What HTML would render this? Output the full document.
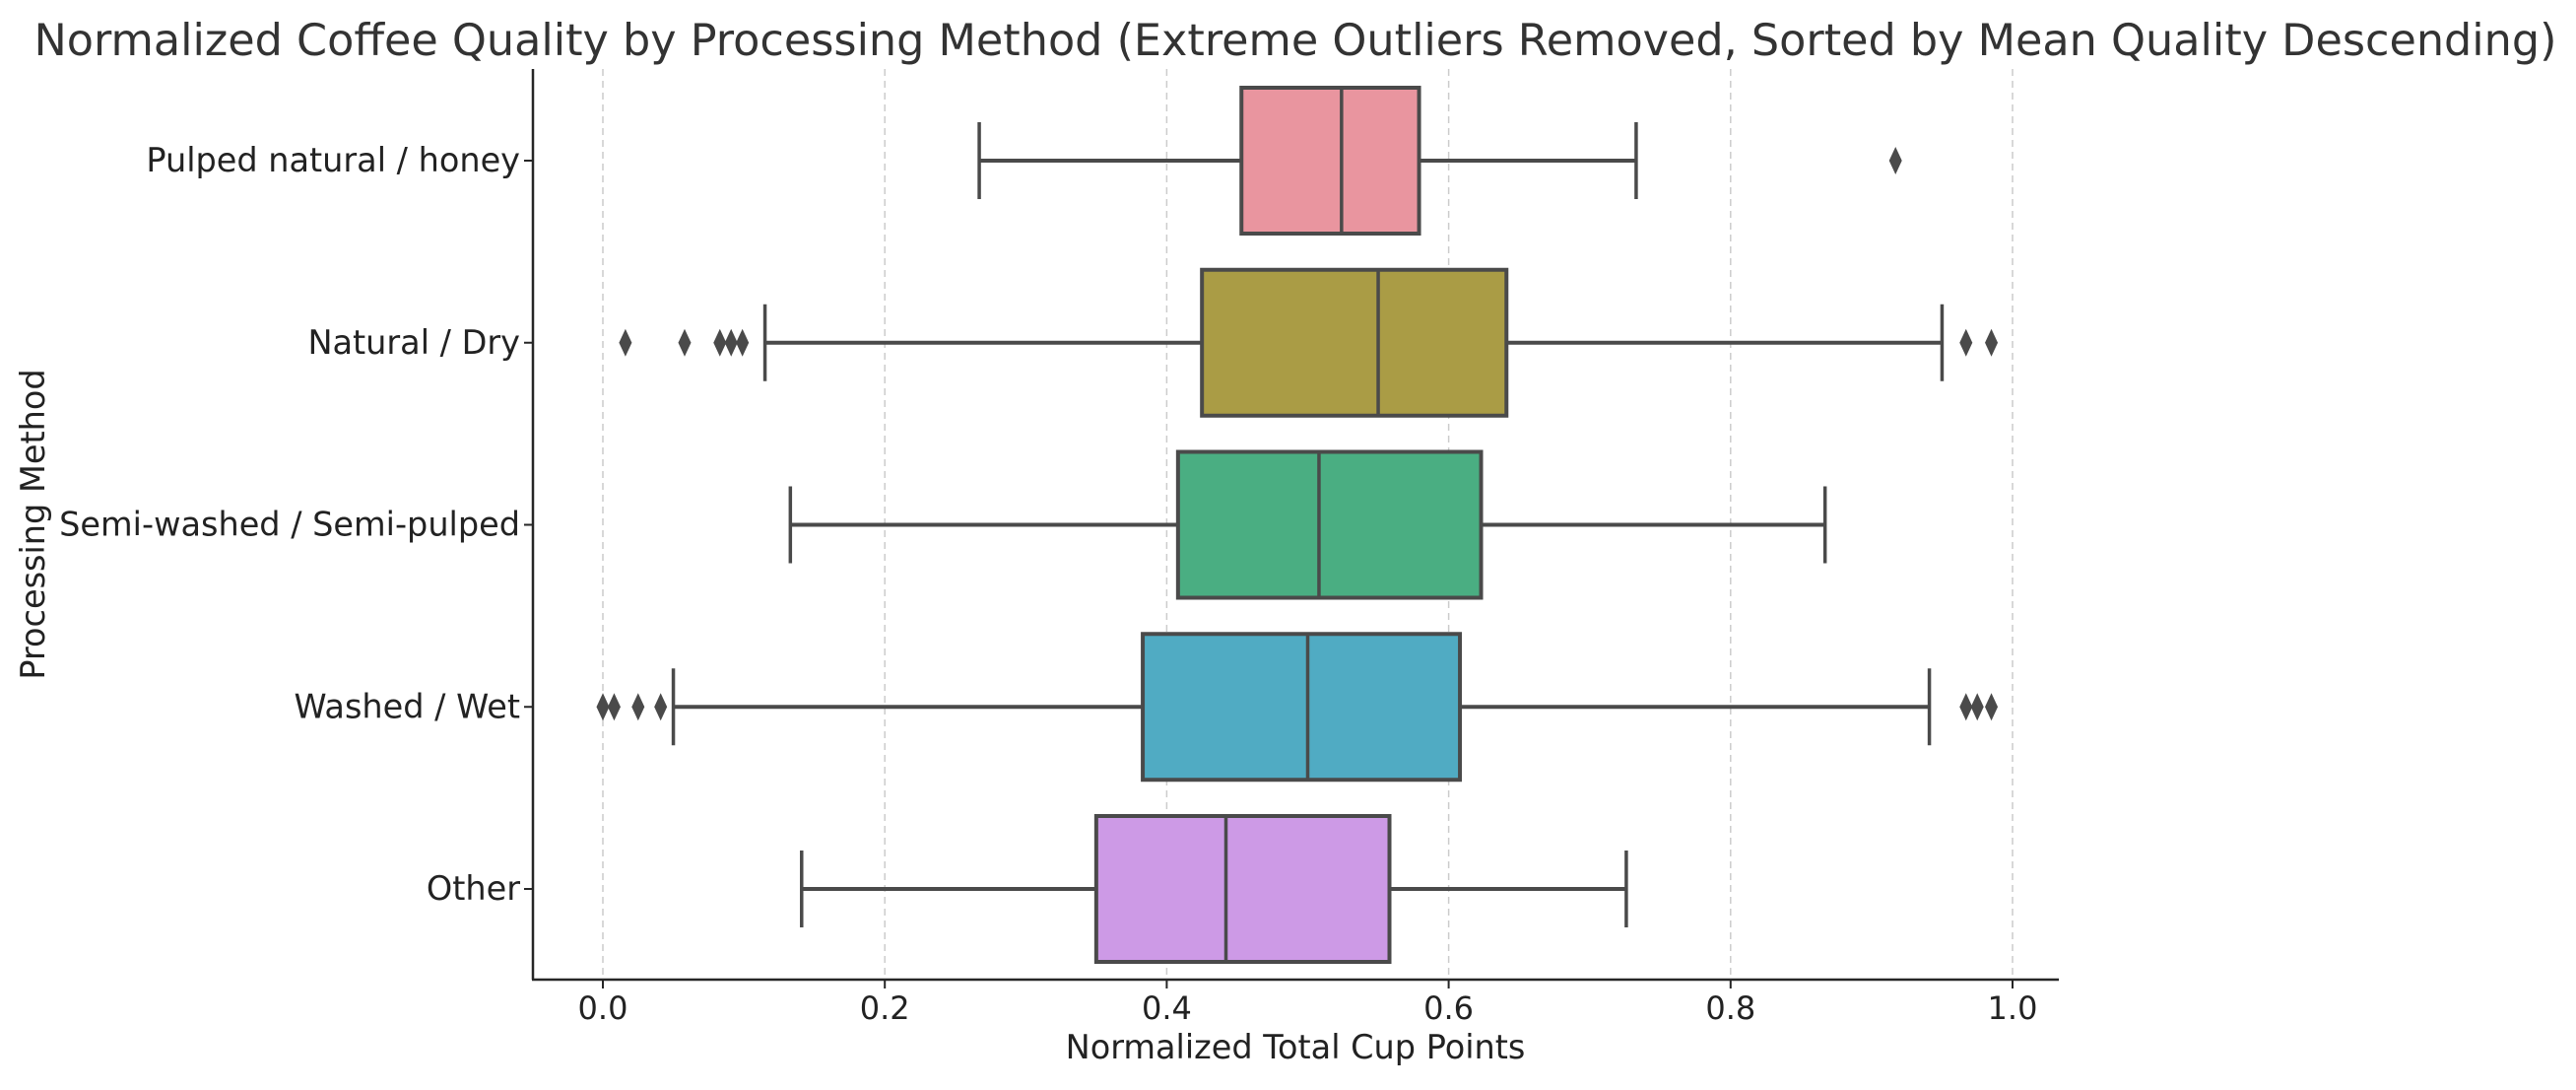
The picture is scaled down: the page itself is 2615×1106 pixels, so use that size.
<!DOCTYPE html>
<html><head><meta charset="utf-8"><style>
body{margin:0;background:#fff}
svg text{font-family:"DejaVu Sans","Liberation Sans",sans-serif}
</style></head><body>
<svg id="chart" width="2615" height="1101" viewBox="0 0 2615 1101" xmlns="http://www.w3.org/2000/svg">
<text x="1315" y="56" font-size="44.5" fill="#333" text-anchor="middle">Normalized Coffee Quality by Processing Method (Extreme Outliers Removed, Sorted by Mean Quality Descending)</text>
<g id="grid"></g>
<g id="boxes"></g>
<line x1="541" y1="70" x2="541" y2="994" stroke="#262626" stroke-width="2.5"/>
<line x1="540" y1="994" x2="2090" y2="994" stroke="#262626" stroke-width="2.5"/>
<g id="ticks"></g>
<text x="1315" y="1074" font-size="33.5" fill="#222" text-anchor="middle">Normalized Total Cup Points</text>
<text transform="translate(45,532) rotate(-90)" font-size="33.5" fill="#222" text-anchor="middle">Processing Method</text>
</svg>
<script>
const categories=["Pulped natural / honey","Natural / Dry","Semi-washed / Semi-pulped","Washed / Wet","Other"];
const whiskerLow=[0.267,0.115,0.133,0.05,0.141];
const q1=[0.453,0.425,0.408,0.383,0.35];
const median=[0.524,0.55,0.508,0.5,0.442];
const q3=[0.579,0.641,0.623,0.608,0.558];
const whiskerHigh=[0.733,0.95,0.867,0.941,0.726];
const outliers=[[0.917],[0.016,0.058,0.083,0.091,0.099,0.967,0.985],[],[0.0,0.008,0.025,0.041,0.967,0.975,0.985],[]];
const colors=["#e9959f","#aa9c45","#4aae82","#50abc3","#cd9ae6"];
const xTicks=[0,0.2,0.4,0.6,0.8,1.0];
const xTickLabels=["0.0","0.2","0.4","0.6","0.8","1.0"];

const NS="http://www.w3.org/2000/svg";
function x(v){return 612+1431*v;}
function y(i){return 163+184.75*i;}
function mk(tag,attrs,parent){const e=document.createElementNS(NS,tag);for(const k in attrs)e.setAttribute(k,attrs[k]);parent.appendChild(e);return e;}
const grid=document.getElementById('grid'),boxes=document.getElementById('boxes'),ticks=document.getElementById('ticks');
xTicks.forEach((t,i)=>{
  const g=mk('line',{x1:x(t),x2:x(t),y1:70,y2:994,stroke:'#ccc','stroke-width':1.5,'stroke-dasharray':'7,5'},grid);
  
  
  const tk=mk('line',{x1:x(t),x2:x(t),y1:994,y2:1003,stroke:'#262626','stroke-width':2},ticks);
  
  
  const tl=mk('text',{x:x(t),y:1034,'font-size':32,fill:'#222','text-anchor':'middle'},ticks);
  tl.textContent=xTickLabels[i];
  
  
});
categories.forEach((c,i)=>{
  const cy=y(i),h=74,cap=39,ec='#4a4a4a';
  const tk=mk('line',{x1:532,x2:541,y1:cy,y2:cy,stroke:'#262626','stroke-width':2},ticks);
  
  
  const tl=mk('text',{x:528,y:cy+11,'font-size':33.5,fill:'#222','text-anchor':'end'},ticks);
  tl.textContent=c;
  
  
  const g=mk('g',{},boxes);
  
  
  mk('line',{x1:x(whiskerLow[i]),x2:x(q1[i]),y1:cy,y2:cy,stroke:ec,'stroke-width':4},g);
  mk('line',{x1:x(q3[i]),x2:x(whiskerHigh[i]),y1:cy,y2:cy,stroke:ec,'stroke-width':4},g);
  mk('line',{x1:x(whiskerLow[i]),x2:x(whiskerLow[i]),y1:cy-cap,y2:cy+cap,stroke:ec,'stroke-width':3.5},g);
  mk('line',{x1:x(whiskerHigh[i]),x2:x(whiskerHigh[i]),y1:cy-cap,y2:cy+cap,stroke:ec,'stroke-width':3.5},g);
  mk('rect',{x:x(q1[i]),y:cy-h,width:x(q3[i])-x(q1[i]),height:2*h,fill:colors[i],stroke:ec,'stroke-width':4},g);
  mk('line',{x1:x(median[i]),x2:x(median[i]),y1:cy-h,y2:cy+h,stroke:ec,'stroke-width':3.5},g);
  outliers[i].forEach(o=>{
    const px=x(o);
    const d=mk('polygon',{points:`${px},${cy-14} ${px+6.5},${cy} ${px},${cy+14} ${px-6.5},${cy}`,fill:ec},g);
    
    
  });
});
</script>
</body></html>
